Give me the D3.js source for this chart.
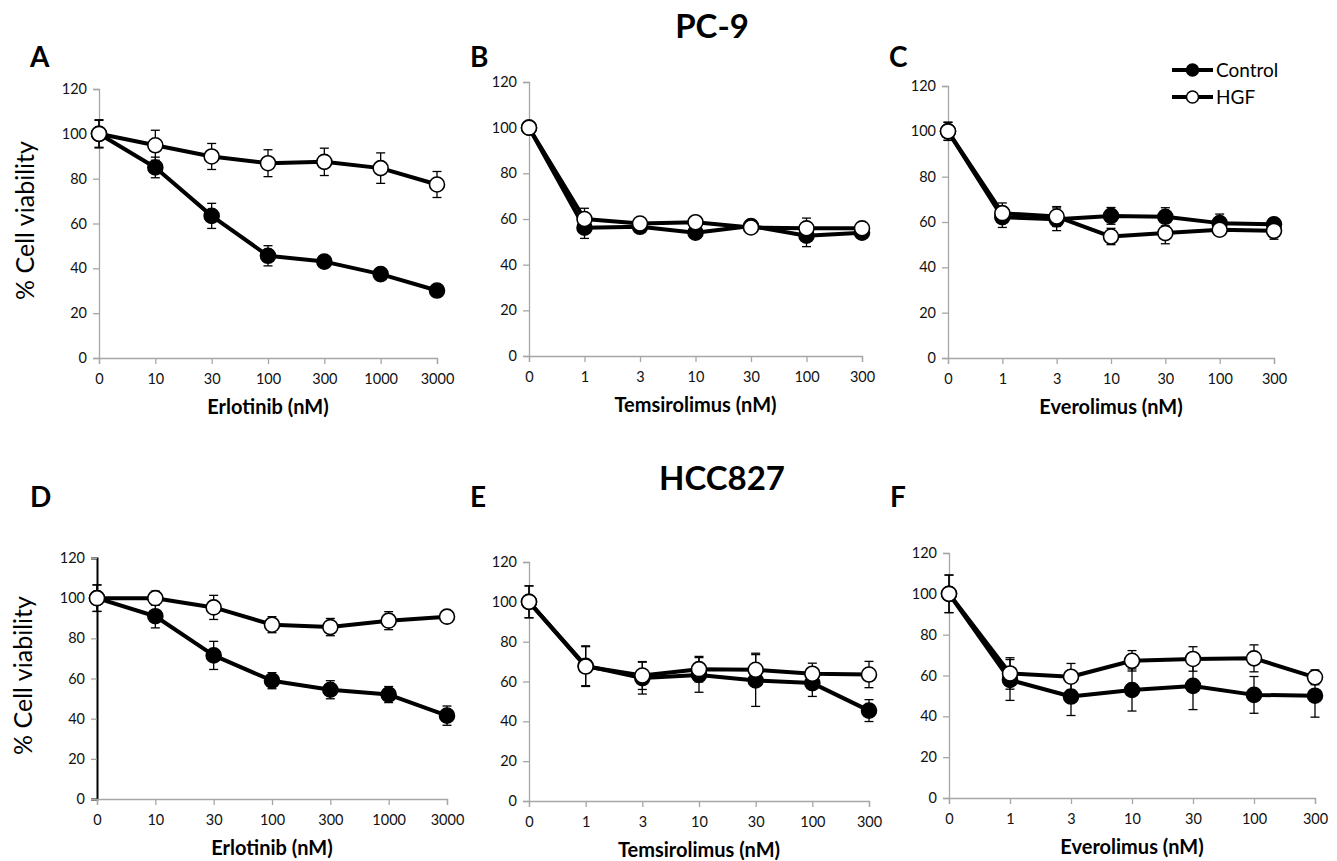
<!DOCTYPE html>
<html>
<head>
<meta charset="utf-8">
<script src="https://cdn.jsdelivr.net/npm/d3@7/dist/d3.min.js"></script>
<style>
  body { margin: 0; background: #fff; }
  text { font-family: Lato, "Open Sans", sans-serif; }
</style>
</head>
<body>
<svg id="fig"></svg>
<script>
const WIDTH = 1337;
const HEIGHT = 861;

// doses
const doseErlotinib = ["0", "10", "30", "100", "300", "1000", "3000"];
const doseMtor = ["0", "1", "3", "10", "30", "100", "300"];
const yTicks = [0, 20, 40, 60, 80, 100, 120];

// PC-9
const ctrlA = [100, 85, 63.4, 45.6, 43, 37.4, 30.1];
const ctrlErrA = [6, 4.6, 5.6, 4.5, 1, 2.8, 1];
const hgfA = [100, 94.9, 89.9, 86.9, 87.5, 84.7, 77.4];
const hgfErrA = [6.3, 6.7, 5.8, 6, 6.1, 6.8, 5.8];

const ctrlB = [100, 56.2, 56.6, 54, 56.9, 52.7, 54];
const ctrlErrB = [1, 4.7, 1, 1, 2.5, 4.8, 1];
const hgfB = [100, 60, 58, 58.6, 56.3, 55.9, 55.9];
const hgfErrB = [1, 4.7, 1, 1, 2.5, 4.5, 1];

const ctrlC = [100, 62.1, 61.2, 62.7, 62.3, 59.5, 59];
const ctrlErrC = [4, 4.5, 5, 3.7, 4, 4, 2];
const hgfC = [100, 63.9, 62.4, 53.6, 55.1, 56.6, 56.1];
const hgfErrC = [4, 4.5, 4.4, 3.6, 4.7, 2.3, 3.7];

// HCC827
const ctrlD = [100, 91, 71.5, 58.9, 54.4, 52, 41.5];
const ctrlErrD = [6.6, 5.8, 7, 4, 4.5, 4, 4.8];
const hgfD = [100, 100, 95.4, 86.8, 85.6, 88.8, 90.8];
const hgfErrD = [6.6, 3.5, 6, 4, 4.3, 4.5, 1];

const ctrlE = [100, 67.9, 61.7, 63.3, 60.5, 59.2, 45.4];
const ctrlErrE = [8, 10, 8, 8.7, 13, 6.7, 5.5];
const hgfE = [100, 67.5, 63, 66.2, 65.9, 63.9, 63.5];
const hgfErrE = [8, 10, 7, 6.4, 8.3, 5.3, 6.6];

const ctrlF = [100, 57.8, 49.7, 52.9, 54.9, 50.5, 50.1];
const ctrlErrF = [9.2, 10, 9.3, 10.3, 11.6, 9, 10.5];
const hgfF = [100, 61, 59.4, 67.2, 68.1, 68.4, 59.1];
const hgfErrF = [9.2, 7.7, 6.5, 5, 6, 6.6, 3.6];

const panels = [
  { id: "A", doses: doseErlotinib, xlab: "Erlotinib (nM)", ctrl: ctrlA, ctrlErr: ctrlErrA, hgf: hgfA, hgfErr: hgfErrA,
    x0: 99, x1: 437, yTop: 89, yBot: 358, ylab: true },
  { id: "B", doses: doseMtor, xlab: "Temsirolimus (nM)", ctrl: ctrlB, ctrlErr: ctrlErrB, hgf: hgfB, hgfErr: hgfErrB,
    x0: 529, x1: 862, yTop: 82, yBot: 356 },
  { id: "C", doses: doseMtor, xlab: "Everolimus (nM)", ctrl: ctrlC, ctrlErr: ctrlErrC, hgf: hgfC, hgfErr: hgfErrC,
    x0: 948, x1: 1274, yTop: 86, yBot: 358 },
  { id: "D", doses: doseErlotinib, xlab: "Erlotinib (nM)", ctrl: ctrlD, ctrlErr: ctrlErrD, hgf: hgfD, hgfErr: hgfErrD,
    x0: 97, x1: 447, yTop: 558, yBot: 799, ylab: true, darkAxis: true },
  { id: "E", doses: doseMtor, xlab: "Temsirolimus (nM)", ctrl: ctrlE, ctrlErr: ctrlErrE, hgf: hgfE, hgfErr: hgfErrE,
    x0: 529, x1: 869, yTop: 562, yBot: 801 },
  { id: "F", doses: doseMtor, xlab: "Everolimus (nM)", ctrl: ctrlF, ctrlErr: ctrlErrF, hgf: hgfF, hgfErr: hgfErrF,
    x0: 949, x1: 1315, yTop: 553, yBot: 798 }
];

const svg = d3.select("#fig")
  .attr("width", WIDTH)
  .attr("height", HEIGHT);

const AXIS_GREY = "#a6a6a6";

function drawPanel(p) {
  const g = svg.append("g");

  const x = d3.scalePoint()
    .domain(p.doses)
    .range([p.x0, p.x1]);

  const y = d3.scaleLinear()
    .domain([0, 120])
    .range([p.yBot, p.yTop]);

  const axisColor = p.darkAxis ? "#000" : AXIS_GREY;

  const yAxis = g.append("g")
    .attr("transform", `translate(${p.x0}, 0)`)
    .call(d3.axisLeft(y).tickValues(yTicks).tickSize(6).tickPadding(6));
  yAxis.select(".domain").attr("stroke", axisColor).attr("stroke-width", p.darkAxis ? 2 : 1.3);
  yAxis.selectAll(".tick line").attr("stroke", AXIS_GREY).attr("stroke-width", 1.3);
  yAxis.selectAll("text").attr("font-size", 14.5).attr("fill", "#111");

  const xAxis = g.append("g")
    .attr("transform", `translate(0, ${p.yBot})`)
    .call(d3.axisBottom(x).tickSize(6).tickPadding(10));
  xAxis.select(".domain").attr("stroke", AXIS_GREY).attr("stroke-width", 1.3);
  xAxis.selectAll(".tick line").attr("stroke", AXIS_GREY).attr("stroke-width", 1.3);
  xAxis.selectAll("text").attr("font-size", 14.5).attr("fill", "#111");

  g.append("text")
    .attr("x", (p.x0 + p.x1) / 2)
    .attr("y", p.yBot + 56)
    .attr("text-anchor", "middle")
    .attr("font-size", 20)
    .attr("font-weight", "bold")
    .text(p.xlab);

  if (p.ylab) {
    const cy = (p.yTop + p.yBot) / 2 - 3;
    g.append("text")
      .attr("transform", `translate(${p.x0 - 65}, ${cy}) rotate(-90)`)
      .attr("text-anchor", "middle")
      .attr("font-size", 25)
      .text("% Cell viability");
  }

  g.append("text")
    .attr("x", p.id === "A" || p.id === "D" ? 30 : p.x0 - 59)
    .attr("y", p.id < "D" ? 67 : 507)
    .attr("font-size", 28)
    .attr("font-weight", "bold")
    .text(p.id);

  const series = [
    { vals: p.ctrl, err: p.ctrlErr, fill: "#000" },
    { vals: p.hgf, err: p.hgfErr, fill: "#fff" }
  ];

  // error bars
  series.forEach(s => {
    const eb = g.append("g").attr("stroke", "#000").attr("stroke-width", 1.3);
    p.doses.forEach((d, i) => {
      const cx = x(d);
      const hi = y(s.vals[i] + s.err[i]);
      const lo = y(s.vals[i] - s.err[i]);
      eb.append("line").attr("x1", cx).attr("x2", cx).attr("y1", hi).attr("y2", lo);
      eb.append("line").attr("x1", cx - 4.5).attr("x2", cx + 4.5).attr("y1", hi).attr("y2", hi);
      eb.append("line").attr("x1", cx - 4.5).attr("x2", cx + 4.5).attr("y1", lo).attr("y2", lo);
    });
  });

  const line = d3.line()
    .x((v, i) => x(p.doses[i]))
    .y(v => y(v));

  series.forEach(s => {
    g.append("path")
      .datum(s.vals)
      .attr("d", line)
      .attr("fill", "none")
      .attr("stroke", "#000")
      .attr("stroke-width", 4)
      .attr("stroke-linejoin", "round");
  });

  series.forEach(s => {
    g.append("g")
      .selectAll("circle")
      .data(s.vals)
      .enter()
      .append("circle")
      .attr("cx", (v, i) => x(p.doses[i]))
      .attr("cy", v => y(v))
      .attr("r", 7.5)
      .attr("fill", s.fill)
      .attr("stroke", "#000")
      .attr("stroke-width", 1.6);
  });
}

panels.forEach(drawPanel);

// titles
svg.append("text")
  .attr("x", 712).attr("y", 38)
  .attr("text-anchor", "middle")
  .attr("font-size", 33)
  .attr("font-weight", "bold")
  .text("PC-9");

svg.append("text")
  .attr("x", 722).attr("y", 490)
  .attr("text-anchor", "middle")
  .attr("font-size", 33)
  .attr("font-weight", "bold")
  .text("HCC827");

// legend
const legendItems = [
  { label: "Control", fill: "#000", y: 70 },
  { label: "HGF", fill: "#fff", y: 97 }
];
const legend = svg.append("g");
legendItems.forEach(it => {
  legend.append("line")
    .attr("x1", 1172).attr("x2", 1213)
    .attr("y1", it.y).attr("y2", it.y)
    .attr("stroke", "#000").attr("stroke-width", 4);
  legend.append("circle")
    .attr("cx", 1192.5).attr("cy", it.y).attr("r", 6)
    .attr("fill", it.fill).attr("stroke", "#000").attr("stroke-width", 1.5);
  legend.append("text")
    .attr("x", 1216).attr("y", it.y + 7)
    .attr("font-size", 19)
    .text(it.label);
});
</script>
</body>
</html>
